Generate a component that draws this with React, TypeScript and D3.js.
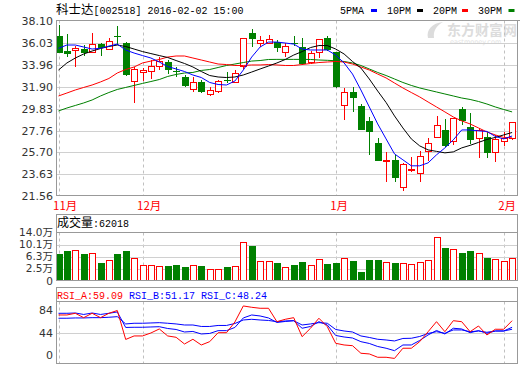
import React from "react";
import * as d3 from "d3";

// ---------- data ----------
const monthLabels = ["11月", "12月", "1月", "2月"];
const monthIdx = [0, 10, 33, 53];
const priceTicks = [38.1, 36.03, 33.96, 31.9, 29.83, 27.76, 25.7, 23.63, 21.56];
const volTicks = [14.0, 10.1, 6.3, 2.5];
const volTickLabels = ["14.0万", "10.1万", "6.3万", "2.5万"];
const rsiTicks = [84, 44, 0];

const open = [36.72, 35.33, 35.40, 35.46, 35.23, 35.96, 35.46, 36.75, 36.09, 32.49, 33.29, 33.44, 33.91, 34.29, 33.38, 32.81, 31.70, 32.40, 31.23, 31.54, 32.60, 32.40, 33.88, 36.98, 36.09, 36.09, 36.18, 35.23, 36.05, 35.65, 34.29, 35.23, 36.50, 35.23, 30.19, 31.39, 30.12, 28.68, 26.56, 24.90, 24.99, 22.40, 24.10, 23.73, 25.86, 27.19, 27.82, 26.81, 29.81, 28.14, 27.04, 27.19, 25.77, 26.81, 27.04];
const high = [37.76, 36.91, 35.77, 35.87, 36.98, 36.09, 36.50, 37.67, 36.12, 33.81, 33.66, 34.45, 34.70, 34.45, 33.81, 33.03, 32.81, 32.56, 31.92, 32.56, 33.34, 33.50, 36.50, 37.38, 36.72, 36.82, 36.34, 36.03, 36.72, 36.50, 35.33, 36.45, 36.72, 35.25, 31.83, 31.92, 30.26, 29.08, 27.04, 25.77, 25.46, 24.73, 25.30, 25.86, 27.04, 29.15, 28.86, 28.95, 29.97, 29.46, 28.01, 27.66, 27.35, 27.66, 28.60];
const low = [35.08, 34.76, 33.81, 34.83, 35.08, 34.83, 35.40, 35.87, 32.95, 30.35, 32.49, 32.62, 33.50, 33.12, 32.87, 31.92, 31.45, 31.35, 31.04, 31.30, 32.24, 32.24, 33.57, 35.71, 35.65, 36.05, 35.23, 34.70, 35.77, 33.98, 34.07, 34.61, 35.33, 31.80, 28.80, 29.56, 27.80, 25.46, 24.90, 22.93, 22.93, 22.08, 23.88, 22.93, 24.92, 27.15, 26.24, 26.40, 28.30, 26.50, 25.15, 25.15, 24.80, 26.31, 26.88];
const close = [35.14, 35.05, 35.61, 35.14, 35.96, 35.61, 36.28, 36.70, 33.03, 33.60, 33.50, 33.88, 34.35, 33.50, 33.30, 31.99, 32.34, 31.45, 31.61, 32.46, 32.52, 33.19, 36.50, 36.44, 36.34, 36.44, 35.56, 35.77, 35.98, 34.07, 35.08, 36.41, 35.40, 31.87, 31.45, 30.88, 27.82, 27.66, 24.92, 24.96, 23.25, 24.58, 24.15, 25.36, 26.56, 28.30, 26.31, 28.93, 28.70, 26.88, 27.82, 25.68, 26.97, 27.04, 28.55];
// volume in 万
const volume = [7.32, 8.26, 8.58, 7.41, 7.73, 4.59, 5.44, 7.41, 8.26, 6.06, 3.77, 3.77, 3.46, 3.55, 3.86, 3.24, 3.77, 3.55, 2.61, 2.61, 3.24, 3.55, 11.0, 9.83, 5.12, 5.12, 4.49, 3.14, 3.86, 4.81, 3.77, 5.66, 4.18, 4.49, 5.97, 5.12, 1.67, 5.44, 5.44, 4.81, 4.49, 4.49, 4.18, 4.81, 5.44, 12.66, 9.21, 8.89, 7.73, 8.26, 7.63, 6.06, 5.75, 5.12, 6.20];

const ma5 = [35.56, 35.87, 35.87, 35.68, 35.49, 35.56, 35.77, 35.96, 35.40, 35.11, 34.87, 34.64, 34.26, 33.83, 33.60, 33.36, 33.03, 32.79, 32.32, 32.13, 32.08, 32.46, 33.50, 34.73, 35.68, 36.15, 36.15, 36.06, 35.96, 35.49, 35.40, 35.40, 35.40, 34.92, 34.17, 33.12, 31.61, 30.00, 28.39, 26.97, 25.55, 24.99, 24.42, 24.42, 24.70, 25.46, 26.12, 26.88, 27.82, 27.82, 27.73, 27.68, 27.21, 26.97, 27.25];
const ma10 = [33.50, 34.17, 34.64, 35.02, 35.30, 35.54, 35.73, 35.87, 35.73, 35.49, 35.25, 35.06, 34.87, 34.69, 34.40, 34.12, 33.79, 33.36, 32.98, 32.84, 32.79, 32.84, 33.03, 33.31, 33.60, 33.88, 34.17, 34.50, 34.92, 35.25, 35.63, 35.82, 35.82, 35.49, 35.02, 34.31, 33.69, 32.65, 31.51, 30.42, 29.15, 28.01, 26.97, 26.31, 25.93, 25.79, 25.65, 25.74, 26.12, 26.36, 26.64, 26.92, 27.11, 27.35, 27.58];
const ma20 = [31.04, 31.32, 31.61, 31.85, 32.08, 32.37, 32.70, 33.22, 33.55, 33.79, 34.17, 34.35, 34.50, 34.73, 34.83, 34.83, 34.64, 34.45, 34.26, 34.07, 34.02, 33.93, 33.93, 33.98, 33.98, 34.02, 33.98, 33.93, 33.93, 34.02, 34.12, 34.21, 34.26, 34.31, 34.26, 34.07, 33.79, 33.50, 33.12, 32.75, 32.27, 31.80, 31.37, 30.95, 30.47, 30.00, 29.53, 29.05, 28.68, 28.39, 28.01, 27.63, 27.35, 27.11, 27.07];
const ma30 = [29.62, 29.90, 30.14, 30.38, 30.66, 31.04, 31.37, 31.66, 31.85, 32.04, 32.23, 32.41, 32.60, 32.89, 33.08, 33.22, 33.27, 33.46, 33.55, 33.74, 33.93, 34.07, 34.21, 34.35, 34.40, 34.50, 34.51, 34.51, 34.51, 34.51, 34.50, 34.45, 34.42, 34.38, 34.31, 34.17, 33.93, 33.60, 33.27, 32.98, 32.65, 32.32, 32.04, 31.80, 31.61, 31.42, 31.23, 31.04, 30.85, 30.71, 30.52, 30.28, 30.00, 29.76, 29.53];

const rsiA = [75.4, 75.4, 78.3, 70.8, 78.3, 70.8, 78.3, 83.1, 33.4, 39.4, 39.4, 44.5, 51.4, 39.4, 37.1, 25.6, 33.7, 23.9, 29.6, 45.0, 45.0, 63.4, 90.9, 88.6, 86.9, 86.9, 63.9, 68.0, 70.8, 38.2, 52.6, 69.8, 55.3, 26.8, 23.9, 22.7, 9.7, 8.5, 2.8, 2.8, 0.8, 18.3, 18.3, 29.6, 46.7, 63.9, 46.7, 65.6, 63.9, 46.7, 56.5, 41.1, 50.9, 50.9, 65.6];
const rsiB = [78.3, 78.3, 78.8, 76.3, 78.8, 76.3, 78.3, 80.6, 54.0, 54.3, 54.3, 54.8, 55.3, 52.2, 50.5, 46.2, 47.1, 42.8, 43.7, 48.5, 48.5, 54.0, 70.3, 75.4, 73.7, 70.3, 62.5, 64.3, 65.6, 52.6, 55.7, 63.9, 58.2, 40.2, 37.6, 35.9, 29.6, 26.5, 21.3, 18.3, 14.1, 23.9, 23.9, 31.6, 41.1, 48.8, 42.8, 52.6, 51.4, 45.0, 48.5, 44.0, 47.9, 47.9, 54.3];
const rsiC = [69.8, 69.8, 70.3, 70.3, 70.8, 70.8, 71.5, 72.5, 60.0, 61.2, 61.2, 61.7, 62.2, 61.2, 60.0, 58.2, 58.2, 55.7, 55.7, 57.4, 57.4, 60.8, 66.8, 68.0, 66.8, 66.0, 63.9, 65.1, 65.6, 58.2, 60.0, 62.2, 61.2, 50.5, 47.9, 46.2, 39.4, 36.8, 33.7, 32.5, 30.8, 35.1, 35.4, 38.5, 43.7, 46.7, 44.0, 49.7, 49.7, 46.7, 47.9, 45.7, 47.9, 47.9, 50.9];

// ---------- layout ----------
const W = 520;
const H = 365;
const L = 56.5;
const R = 517.5;
const RED = "#ff0000";
const GREEN = "#008000";
const FRAME = "#999999";
const GRID = "#d0d0d0";
const MONO = "'Liberation Mono', 'DejaVu Sans Mono', monospace";
const CJK = "'Noto Sans CJK SC', sans-serif";
const SANS = "'DejaVu Sans', 'Noto Sans CJK SC', sans-serif";

export default function App() {
  const n = close.length;
  const x = d3.scaleLinear().domain([0, n - 1]).range([58.5, 512.1]);
  const y = d3.scaleLinear().domain([21.56, 38.1]).range([196, 21.5]);
  const yv = d3.scaleLinear().domain([0, 14]).range([277.3, 232.7]);
  const yr = d3.scaleLinear().domain([0, 100]).range([358.9, 300.65]);
  const px = (i: number) => Math.round(x(i)) + 0.5;
  const half = 3;

  const maLine = d3
    .line<number>()
    .x((_, i) => x(i))
    .y((d) => y(d));
  const rsiLine = d3
    .line<number>()
    .x((_, i) => x(i))
    .y((d) => yr(d));

  const mainTop = 20.5;
  const mainBot = 195.5;
  const volTop = 214.5;
  const volHead = 232.5;
  const volBot = 280.5;
  const rsiTop = 287.5;
  const rsiHead = 301.5;
  const rsiBot = 363.5;

  const legend = [
    { t: "5PMA", x: 340, c: "#0000ff", mx: 371 },
    { t: "10PM", x: 387, c: "#000000", mx: 417 },
    { t: "20PM", x: 433, c: RED, mx: 462 },
    { t: "30PM", x: 478, c: GREEN, mx: 508.5 },
  ];

  return (
    <svg
      width={W}
      height={H}
      viewBox={`0 0 ${W} ${H}`}
      style={{ position: "fixed", left: 0, top: 0, background: "#fff" }}
    >
      <rect x={0} y={0} width={W} height={H} fill="#fff" />

      {/* watermark */}
      <g fill="#dcdcdc">
        <path d="M428 38 C 426 30, 432 23, 443 22 C 436 26, 433 31, 434 38 Z" />
        <text x={447} y={35} fontFamily={CJK} fontSize={14} fontWeight="bold">
          东方财富网
        </text>
        <text x={450} y={44} fontFamily={SANS} fontSize={6.5} fill="#e2e2e2">
          eastmoney.com
        </text>
      </g>

      {/* title */}
      <text y={14} fill="#000">
        <tspan x={56} fontFamily={CJK} fontSize={12.5}>科士达</tspan>
        <tspan fontFamily={MONO} fontSize={10}>[002518] 2016-02-02 15:00</tspan>
      </text>

      {/* legend */}
      {legend.map((d) => (
        <g key={d.t}>
          <text x={d.x} y={14} fontFamily={MONO} fontSize={10} fill="#000">
            {d.t}
          </text>
          <rect x={d.mx} y={9} width={6} height={3} fill={d.c} />
        </g>
      ))}

      {/* main grid */}
      {priceTicks.slice(1, -1).map((t) => (
        <line key={t} x1={L} x2={R} y1={Math.round(y(t)) + 0.5} y2={Math.round(y(t)) + 0.5} stroke={GRID} />
      ))}
      {monthIdx.map((i) => (
        <g key={"d" + i} stroke="#c0c0c0" strokeDasharray="3,3">
          <line x1={px(i)} x2={px(i)} y1={mainTop} y2={mainBot} />
          <line x1={px(i)} x2={px(i)} y1={volHead} y2={volBot} />
          <line x1={px(i)} x2={px(i)} y1={rsiHead} y2={rsiBot} />
        </g>
      ))}

      {/* price labels */}
      {priceTicks.map((t) => (
        <text
          key={"p" + t}
          x={53}
          y={y(t)}
          dy="0.36em"
          textAnchor="end"
          fontFamily={SANS}
          fontSize={11}
          fill="#333"
        >
          {t.toFixed(2)}
        </text>
      ))}

      {/* candles */}
      {close.map((c, i) => {
        const o = open[i];
        const up = c >= o;
        const cx = px(i);
        const top = Math.round(y(Math.max(o, c)));
        const bot = Math.max(Math.round(y(Math.min(o, c))), top + 1);
        const hi = Math.round(y(high[i]));
        const lo = Math.round(y(low[i]));
        if (up) {
          return (
            <g key={"c" + i} stroke={RED} shapeRendering="crispEdges">
              {hi < top && <line x1={cx} x2={cx} y1={hi} y2={top} />}
              {lo > bot && <line x1={cx} x2={cx} y1={bot} y2={lo} />}
              <rect x={cx - half} y={top + 0.5} width={half * 2} height={bot - top} fill="#fff" />
            </g>
          );
        }
        return (
          <g key={"c" + i} shapeRendering="crispEdges">
            <line x1={cx} x2={cx} y1={hi} y2={lo} stroke={GREEN} />
            <rect x={cx - half - 0.5} y={top} width={half * 2 + 1} height={Math.max(bot - top, 1)} fill={GREEN} />
          </g>
        );
      })}

      {/* moving averages */}
      <g fill="none" strokeWidth={1}>
        <path d={maLine(ma30) || ""} stroke={GREEN} />
        <path d={maLine(ma20) || ""} stroke={RED} />
        <path d={maLine(ma10) || ""} stroke="#000" />
        <path d={maLine(ma5) || ""} stroke="#0000ff" />
      </g>

      {/* main frame */}
      <rect x={L} y={mainTop} width={R - L} height={mainBot - mainTop} fill="none" stroke={FRAME} />
      <line x1={R} x2={W} y1={mainTop} y2={mainTop} stroke={FRAME} />

      {/* month labels */}
      {monthIdx.map((i, k) => (
        <text key={"m" + i} x={x(i) - 5.5} y={210} fontFamily={CJK} fontSize={11.5} fill={RED}>
          {monthLabels[k]}
        </text>
      ))}

      {/* volume panel */}
      {volTicks.slice(1).map((t) => (
        <line key={"vg" + t} x1={L} x2={R} y1={Math.round(yv(t)) + 0.5} y2={Math.round(yv(t)) + 0.5} stroke={GRID} />
      ))}
      {volume.map((v, i) => {
        const up = close[i] >= open[i];
        const cx = px(i);
        const top = Math.round(yv(v));
        const bot = 280;
        return up ? (
          <rect key={"v" + i} x={cx - half} y={top + 0.5} width={half * 2} height={bot - top - 0.5} fill="#fff" stroke={RED} shapeRendering="crispEdges" />
        ) : (
          <rect key={"v" + i} x={cx - half - 0.5} y={top} width={half * 2 + 1} height={bot - top} fill={GREEN} shapeRendering="crispEdges" />
        );
      })}
      <rect x={L} y={volTop} width={R - L} height={volBot - volTop} fill="none" stroke={FRAME} />
      <line x1={L} x2={R} y1={volHead} y2={volHead} stroke={FRAME} />
      <text y={227} fill="#000">
        <tspan x={57} fontFamily={CJK} fontSize={12}>成交量</tspan>
        <tspan fontFamily={MONO} fontSize={10}>:62018</tspan>
      </text>
      {volTicks.map((t, k) => (
        <text key={"vl" + t} x={53} y={yv(t) - 0.5} dy="0.34em" textAnchor="end" fontFamily={SANS} fontSize={10.5} fill="#333">
          {volTickLabels[k]}
        </text>
      ))}
      <text x={53} y={281} dy="0.34em" textAnchor="end" fontFamily={SANS} fontSize={10.5} fill="#333">
        0
      </text>

      {/* RSI panel */}
      <line x1={L} x2={R} y1={Math.round(yr(44)) + 0.5} y2={Math.round(yr(44)) + 0.5} stroke={GRID} />
      <g fill="none" strokeWidth={1}>
        <path d={rsiLine(rsiC) || ""} stroke="#0000ff" />
        <path d={rsiLine(rsiB) || ""} stroke="#0000ff" />
        <path d={rsiLine(rsiA) || ""} stroke={RED} />
      </g>
      <rect x={L} y={rsiTop} width={R - L} height={rsiBot - rsiTop} fill="none" stroke={FRAME} />
      <line x1={L} x2={R} y1={rsiHead} y2={rsiHead} stroke={FRAME} />
      <text y={298.5} fontFamily={MONO} fontSize={10}>
        <tspan x={57} fill={RED}>RSI_A:59.09</tspan>
        <tspan x={129} fill="#0000ff">RSI_B:51.17</tspan>
        <tspan x={201} fill="#0000ff">RSI_C:48.24</tspan>
      </text>
      {rsiTicks.map((t) => (
        <text key={"r" + t} x={53} y={Math.min(yr(t), 355.5)} dy="0.36em" textAnchor="end" fontFamily={SANS} fontSize={11} fill="#333">
          {t}
        </text>
      ))}
    </svg>
  );
}
